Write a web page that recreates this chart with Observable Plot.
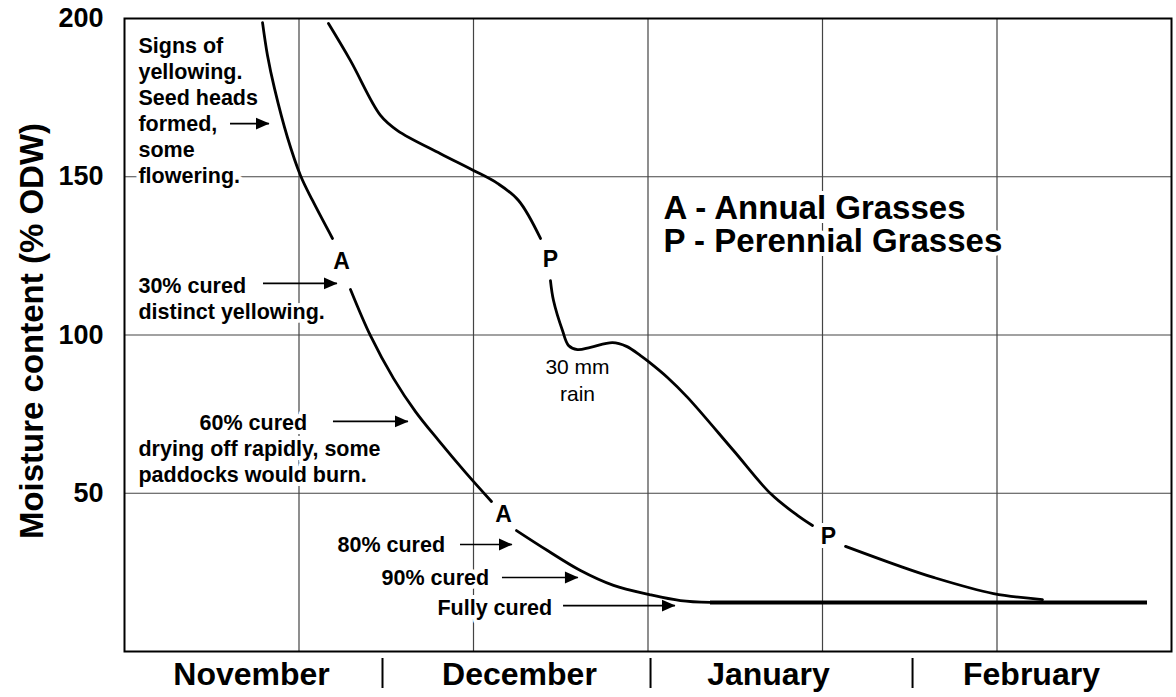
<!DOCTYPE html>
<html>
<head>
<meta charset="utf-8">
<script src="https://cdn.jsdelivr.net/npm/d3@7"></script>
<script src="https://cdn.jsdelivr.net/npm/@observablehq/plot@0.6"></script>
<style>
  html, body { margin: 0; padding: 0; background: #fff; }
  #chart svg { display: block; }
</style>
</head>
<body>
<div id="chart"></div>
<script>
// ---- x axis: months (x = days from 1 November) ----
const months = ["November", "December", "January", "February"];
const monthCenters = [14.56, 45.27, 73.81, 103.95];
const monthBounds = [29.57, 60.29, 90.32];
const xGrid = [20, 40, 60, 80, 100];
const yGrid = [50, 100, 150];
const yTicks = [50, 100, 150, 200];

// ---- curves (NaN = gap where the curve letter sits) ----
const annualX = [15.82, 16.39, 17.19, 18.68, 20.17, 21.55, 23.84, NaN,
                 25.90, 28.19, 30.83, 33.35, 35.99, 39.08, 42.06, NaN,
                 44.93, 48.48, 52.26, 56.05, 60.17, 63.72, 67.16];
const annualY = [198.7, 188.3, 177.9, 162.4, 150.4, 142.5, 130.5, NaN,
                 114.4, 99.8, 86.3, 75.8, 66.7, 56.6, 47.4, NaN,
                 38.2, 31.9, 25.6, 20.9, 18.0, 16.1, 15.5];

const perennialX = [23.38, 25.90, 29.34, 31.29, 36.22, 40.00, 42.75, 45.16, 47.68, NaN,
                    48.82, 49.17, 50.20, 50.89, 51.92, 53.41, 55.93, 57.54, 59.14, 60.06,
                    62.23, 64.53, 69.80, 74.04, 77.13, 78.85, NaN,
                    82.64, 88.60, 92.72, 99.60, 105.21];
const perennialY = [198.4, 186.7, 169.4, 164.6, 157.3, 152.0, 147.9, 142.5, 130.5, NaN,
                    117.2, 110.9, 101.4, 96.7, 95.4, 96.1, 97.6, 96.4, 93.5, 91.6,
                    86.6, 80.3, 63.5, 49.9, 43.0, 39.8, NaN,
                    33.2, 27.2, 23.4, 18.3, 16.4];

// fully cured level
const curedLevel = 15.5;
const curedFrom = 67.16;
const curedTo = 117.25;

// ---- curve letters ----
const letterText = ["A", "A", "P", "P"];
const letterX = [24.87, 43.44, 48.82, 80.69];
const letterY = [123.2, 43.3, 123.9, 36.3];

// ---- annotations (x = left edge, y = baseline of last line) ----
const noteText = [
  "Signs of\nyellowing.\nSeed heads\nformed,\nsome\nflowering.",
  "30% cured\ndistinct yellowing.",
  "60% cured",
  "drying off rapidly, some\npaddocks would burn.",
  "80% cured",
  "90% cured",
  "Fully cured"
];
const noteX = [1.60, 1.60, 8.60, 1.60, 24.41, 29.46, 35.87];
const noteY = [147.9, 105.2, 70.1, 53.7, 31.3, 20.9, 11.4];

const rainText = "30 mm\nrain";
const rainX = 51.92;
const rainY = 79.3;

// ---- arrows ----
const arrowFrom = [12.15, 15.93, 23.95, 38.51, 43.32, 50.32];
const arrowTo   = [16.62, 24.41, 32.55, 44.47, 52.03, 63.15];
const arrowY    = [166.8, 116.3, 72.7, 33.8, 23.4, 14.5];

// ---- legend ----
const legendText = ["A - Annual Grasses", "P - Perennial Grasses"];
const legendX = 61.78;
const legendY = [136.8, 126.1];

const yTitle = "Moisture content (% ODW)";

// build tables
const annual = annualX.map((x, i) => ({x, y: annualY[i]}));
const perennial = perennialX.map((x, i) => ({x, y: perennialY[i]}));
const arrows = arrowTo.map((x2, i) => ({x1: arrowFrom[i], x2, y: arrowY[i]}));
const notes = noteText.map((t, i) => ({t, x: noteX[i], y: noteY[i]}));
const letters = letterText.map((t, i) => ({t, x: letterX[i], y: letterY[i]}));
const legend = legendText.map((t, i) => ({t, x: legendX, y: legendY[i]}));
const monthName = new Map(monthCenters.map((c, i) => [c, months[i]]));

// filled arrowhead symbol, tip at the anchor point
const arrowHead = {
  draw(ctx, size) {
    const k = Math.sqrt(size / Math.PI);
    ctx.moveTo(0, 0);
    ctx.lineTo(-2.5 * k, -1.1 * k);
    ctx.lineTo(-2.5 * k, 1.1 * k);
    ctx.closePath();
  }
};

const halo = {stroke: "white", strokeWidth: 8, strokeLinejoin: "round"};

const chart = Plot.plot({
  width: 1176,
  height: 697,
  marginTop: 18,
  marginRight: 5,
  marginBottom: 46,
  marginLeft: 124,
  style: {fontFamily: "'Liberation Sans', Arial, Helvetica, sans-serif", color: "black", background: "white"},
  x: {domain: [0, 120]},
  y: {domain: [0, 200]},
  marks: [
    Plot.ruleX(xGrid, {stroke: "#444", strokeWidth: 1.2}),
    Plot.ruleY(yGrid, {stroke: "#444", strokeWidth: 1.2}),
    Plot.frame({stroke: "black", strokeWidth: 2}),
    Plot.line(annual, {x: "x", y: "y", curve: "catmull-rom", stroke: "black", strokeWidth: 2.8}),
    Plot.line(perennial, {x: "x", y: "y", curve: "catmull-rom", stroke: "black", strokeWidth: 2.8}),
    Plot.ruleY([curedLevel], {x1: () => curedFrom, x2: () => curedTo, stroke: "black", strokeWidth: 4}),
    Plot.text(notes, {x: "x", y: "y", text: "t", textAnchor: "start", lineAnchor: "bottom",
      lineHeight: 1.21, fontSize: 21.5, fontWeight: "bold", fill: "black", ...halo}),
    Plot.text([rainText], {x: () => rainX, y: () => rainY, text: d => d, textAnchor: "middle",
      lineAnchor: "bottom", lineHeight: 1.24, fontSize: 21, fontWeight: "normal", fill: "black", ...halo}),
    Plot.text(letters, {x: "x", y: "y", text: "t", textAnchor: "middle", lineAnchor: "middle",
      fontSize: 23, fontWeight: "bold", fill: "black", ...halo}),
    Plot.text(legend, {x: "x", y: "y", text: "t", textAnchor: "start", lineAnchor: "bottom",
      fontSize: 33, fontWeight: "bold", fill: "black", ...halo}),
    Plot.ruleY(arrows, {y: "y", x1: "x1", x2: "x2", stroke: "black", strokeWidth: 1.6}),
    Plot.dot(arrows, {x: "x2", y: "y", symbol: arrowHead, r: 5.4, fill: "black", stroke: "none"}),
    Plot.axisY(yTicks, {tickSize: 0, tickPadding: 21, fontSize: 27, fontWeight: "bold", label: null}),
    Plot.axisX(monthCenters, {tickSize: 0, tickPadding: 11, tickFormat: d => monthName.get(d),
      fontSize: 32, fontWeight: "bold", label: null}),
    Plot.axisX(monthBounds, {tickSize: 30, dy: 7, strokeWidth: 2, fill: "none", label: null}),
    Plot.text([yTitle], {frameAnchor: "left", rotate: -90, dx: -92, dy: -4, text: d => d,
      textAnchor: "middle", lineAnchor: "middle", fontSize: 33, fontWeight: "bold", fill: "black"})
  ]
});

document.getElementById("chart").appendChild(chart);
</script>
</body>
</html>
